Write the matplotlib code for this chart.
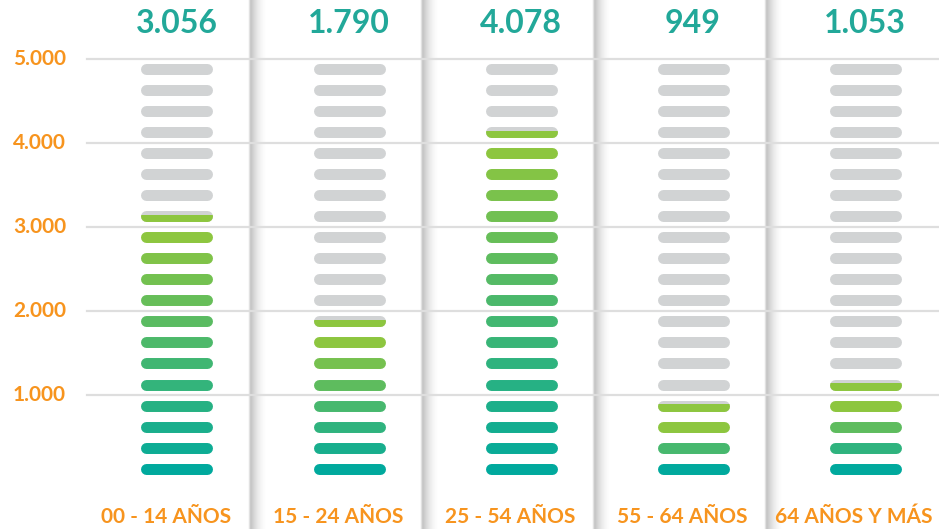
import numpy as np
import matplotlib.pyplot as plt
from matplotlib.colors import to_rgb
from matplotlib.patches import Rectangle

# ------- Daten ----------------
grupos = ['00 - 14 AÑOS', '15 - 24 AÑOS', '25 - 54 AÑOS', '55 - 64 AÑOS', '64 AÑOS Y MÁS']
valores = [3056, 1790, 4078, 949, 1053]
etiquetas_valor = ['3.056', '1.790', '4.078', '949', '1.053']
ticks_y = [1000, 2000, 3000, 4000, 5000]
ticks_txt = ['1.000', '2.000', '3.000', '4.000', '5.000']

paso = 250        # ein Segment = 250
n_seg = 20

# ------- Stil ----------------
teal = np.array(to_rgb('#00A99D'))
verde = np.array(to_rgb('#8DC63F'))
gris = '#D1D3D4'
naranja = '#F7941E'
azul_txt = '#22A899'

plt.rcParams['font.family'] = ['Lato', 'DejaVu Sans']

fig = plt.figure(figsize=(9.39, 5.29), dpi=100)
ax = fig.add_axes([0, 0, 1, 1])
y0, y1 = -588, 5695
ax.set_xlim(-1.029, 4.430)
ax.set_ylim(y0, y1)
ax.axis('off')

px = 1 / 172          # ein Pixel in x-Einheiten
media_larga = 30.5 * px
media_alta = 65       # halbe Segmenthöhe in Werteinheiten
lw_seg = 7.9

# Schatten zwischen den Spalten
perfil = np.concatenate([np.linspace(0.03, 0.22, 3), 0.22 * (1 - np.linspace(0, 1, 17)) ** 2])
grad = np.zeros((1, len(perfil), 4))
grad[0, :, 3] = perfil
for i in range(len(grupos) - 1):
    sep = i + 0.43
    ax.imshow(grad, extent=(sep - 3 * px, sep + 17 * px, y0, y1),
              aspect='auto', interpolation='bilinear', zorder=0.5)

# Gitterlinien + Achsenbeschriftung
for t, txt in zip(ticks_y, ticks_txt):
    ax.plot([-0.523, 4.43], [t, t], color='#DEDEDE', lw=1.6, zorder=1)
    ax.text(-0.645, t, txt, ha='right', va='center', color=naranja,
            fontsize=15, fontweight='bold')

# Segmente
for i, v in enumerate(valores):
    n_full = int(v // paso)
    resto = v - n_full * paso
    den = max(n_full - 1, 1)
    for k in range(n_seg):
        yc = paso * k + 128
        xs = [i - media_larga, i + media_larga]
        if k < n_full:
            c = teal + (verde - teal) * min(k / den, 1)
            ax.plot(xs, [yc, yc], color=c, lw=lw_seg, solid_capstyle='round', zorder=3)
        else:
            ax.plot(xs, [yc, yc], color=gris, lw=lw_seg, solid_capstyle='round', zorder=3)
            if k == n_full and resto > 0:
                ln, = ax.plot(xs, [yc, yc], color=verde, lw=lw_seg,
                              solid_capstyle='round', zorder=4)
                clip = Rectangle((i - 0.3, yc - media_alta - 20), 0.6,
                                 20 + 0.6 * 2 * media_alta, transform=ax.transData)
                ln.set_clip_path(clip)

    ax.text(i, 5420, etiquetas_valor[i], ha='center', va='center',
            color=azul_txt, fontsize=23, fontweight='bold')
    ax.text(i - 0.065, -440, grupos[i], ha='center', va='center',
            color=naranja, fontsize=15, fontweight='bold')

fig.savefig('out.png', dpi=100, facecolor='white')
